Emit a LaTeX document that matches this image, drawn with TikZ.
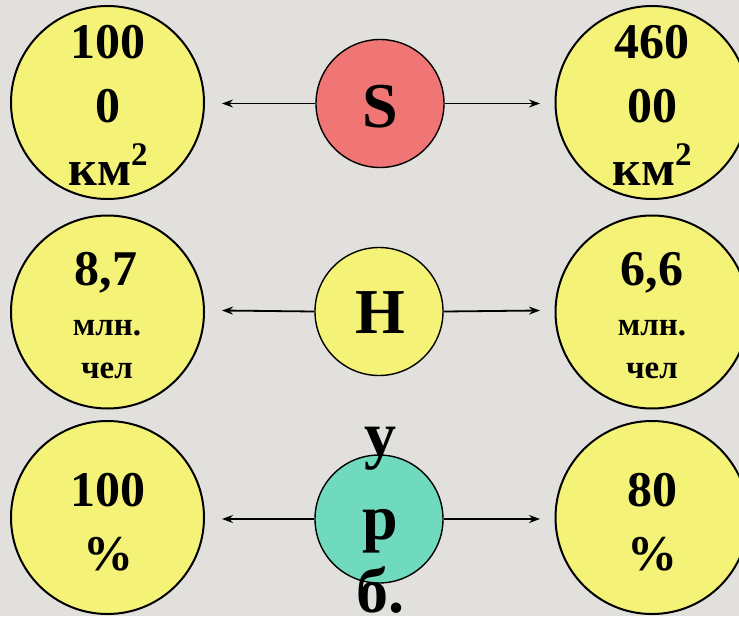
\documentclass[tikz,border=0pt]{standalone}
\usepackage{fontspec}
\setmainfont{Liberation Serif}
\usetikzlibrary{arrows.meta}
\definecolor{bgcol}{RGB}{226,224,220}
\definecolor{cyellow}{RGB}{245,242,120}
\definecolor{cred}{RGB}{240,118,118}
\definecolor{cteal}{RGB}{112,218,190}
\begin{document}
\begin{tikzpicture}[x=1pt,y=-1pt,
  big/.style={circle,draw=black,line width=2pt,fill=cyellow,minimum size=193pt,inner sep=0pt},
  mid/.style={circle,draw=black,line width=1.4pt,minimum size=128pt,inner sep=0pt},
  txt/.style={anchor=base,inner sep=0pt,font=\bfseries\fontsize{50}{50}\selectfont},
  stxt/.style={anchor=base,inner sep=0pt,font=\bfseries\fontsize{33}{33}\selectfont},
  ctxt/.style={anchor=base,inner sep=0pt,font=\bfseries\fontsize{64}{64}\selectfont},
  arr/.style={-{Stealth[length=11pt,width=8pt]},line width=1.8pt}]
\useasboundingbox (0,0) rectangle (739,616);
\clip (0,0) rectangle (739,616);
\fill[bgcol] (0,0) rectangle (739,616);

% circles
\node[big] (L1) at (107.5,102.5) {};
\node[big] (R1) at (652,102.5) {};
\node[big] (L2) at (107.5,312) {};
\node[big] (R2) at (652,312) {};
\node[big] (L3) at (107.5,517.5) {};
\node[big] (R3) at (652,517.5) {};
\node[mid,fill=cred] (C1) at (380,103.5) {};
\node[mid,fill=cyellow] (C2) at (379,311.5) {};
\node[mid,fill=cteal] (C3) at (379,519) {};

% arrow ends
\coordinate (a1l) at (222,103.5);
\coordinate (a1r) at (540,103.5);
\coordinate (a2l) at (222,310.5);
\coordinate (a2r) at (540,310.5);
\coordinate (a3l) at (222,519);
\coordinate (a3r) at (540,519);
\draw[arr] (C1.west) -- (a1l);
\draw[arr] (C1.east) -- (a1r);
\draw[arr] (C2.west) -- (a2l);
\draw[arr] (C2.east) -- (a2r);
\draw[arr] (C3.west) -- (a3l);
\draw[arr] (C3.east) -- (a3r);

% top row texts
\node[txt] (t1a) at (108,58) {100};
\node[txt] (t1b) at (108,122) {0};
\node[txt] (t1c) at (108,185) {км\raisebox{20pt}{\fontsize{33}{33}\selectfont 2}};
\node[txt] (t2a) at (652,58) {460};
\node[txt] (t2b) at (652,122) {00};
\node[txt] (t2c) at (652,185) {км\raisebox{20pt}{\fontsize{33}{33}\selectfont 2}};
\node[ctxt] (tS) at (380,127) {S};

% middle row texts
\node[txt] (t3a) at (106,285) {8,7};
\node[stxt] (t3b) at (107,335) {млн.};
\node[stxt] (t3c) at (107,378) {чел};
\node[txt] (t4a) at (652,285) {6,6};
\node[stxt] (t4b) at (652,335) {млн.};
\node[stxt] (t4c) at (652,378) {чел};
\node[ctxt] (tH) at (380,333) {Н};

% bottom row texts
\node[txt] (t5a) at (108,506) {100};
\node[txt] (t5b) at (108,570) {\%};
\node[txt] (t6a) at (652,506) {80};
\node[txt] (t6b) at (652,570) {\%};
\node[ctxt] (tU1) at (380,456) {у};
\node[ctxt] (tU2) at (380,539) {р};
\node[ctxt] (tU3) at (380,612) {б.};
\end{tikzpicture}
\end{document}
